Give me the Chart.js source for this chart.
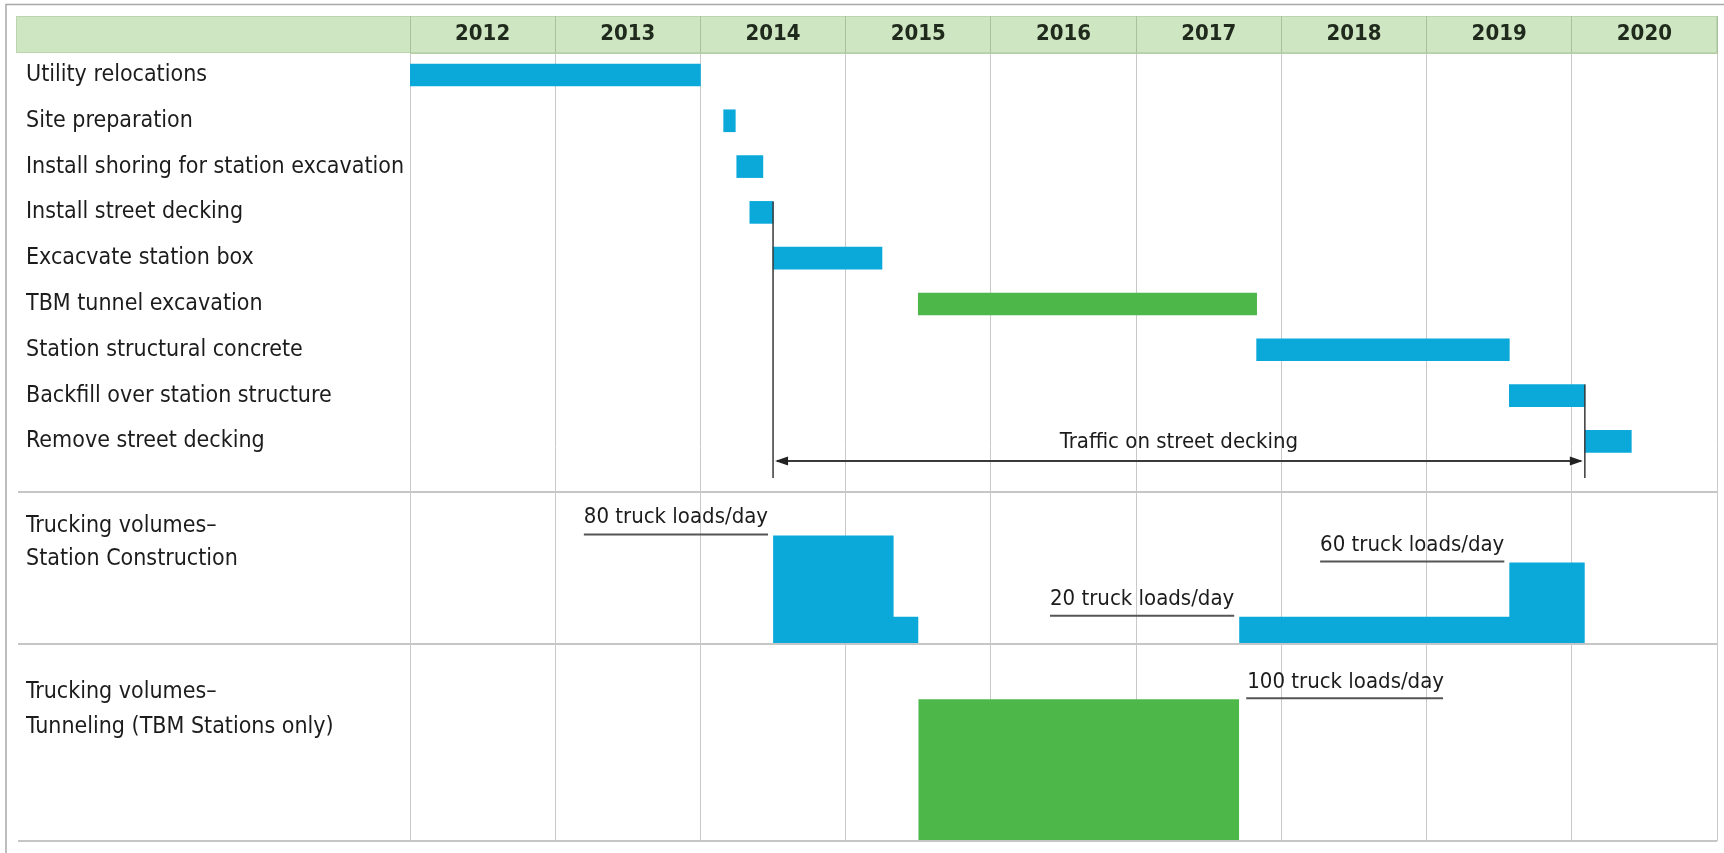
<!DOCTYPE html>
<html lang="en">
<head>
<meta charset="utf-8">
<title>Station construction schedule</title>
<script src="https://cdn.jsdelivr.net/npm/chart.js@4.4.1/dist/chart.umd.min.js"></script>
<style>
  html, body { margin: 0; padding: 0; background: #ffffff; }
  #wrap { position: relative; width: 1724px; height: 853px; }
</style>
</head>
<body>
<div id="wrap"><canvas id="schedule"></canvas></div>
<script>
const years = [2012, 2013, 2014, 2015, 2016, 2017, 2018, 2019, 2020];

const taskNames = [
  "Utility relocations",
  "Site preparation",
  "Install shoring for station excavation",
  "Install street decking",
  "Excacvate station box",
  "TBM tunnel excavation",
  "Station structural concrete",
  "Backfill over station structure",
  "Remove street decking",
];
const taskStart = [2012.0, 2014.16, 2014.25, 2014.34, 2014.5, 2015.5, 2017.83, 2019.57, 2020.09];
const taskEnd = [2014.0, 2014.24, 2014.43, 2014.5, 2015.25, 2017.83, 2019.57, 2020.09, 2020.41];
const tunnelTasks = ["TBM tunnel excavation"];

// truck loads/day, each value holds until the next change
const stationTruckYears = [2014.5, 2015.33, 2015.5, 2017.71, 2019.57, 2020.09];
const stationTruckLoads = [80, 20, 0, 20, 60, 0];
const tunnelTruckYears = [2015.5, 2017.71];
const tunnelTruckLoads = [100, 0];

const stationNotes = ["80 truck loads/day", "20 truck loads/day", "60 truck loads/day"];
const stationNoteYears = [2014.5, 2017.71, 2019.57];
const stationNoteLoads = [80, 20, 60];
const tunnelNote = "100 truck loads/day";
const tunnelNoteYear = 2017.71;
const tunnelNoteLoads = 100;

const trafficLabel = "Traffic on street decking";
const trafficFrom = 2014.5;
const trafficTo = 2020.09;

const blue = "#0ba9da";
const green = "#4db749";
const textColor = "#1c1c1c";
const fontFamily = '"DejaVu Sans Condensed", "Liberation Sans Narrow", sans-serif';
const labelColumn = 384;
const headerHeight = 37;
const barHeight = 22;

function fixLabelColumn(scale) {
  scale.width = labelColumn;
  scale.paddingTop = 0;
  scale.paddingBottom = 0;
}

const halfYearLabels = {
  id: "halfYearLabels",
  afterLayout(chart) {
    const x = chart.scales.x;
    x.options.ticks.labelOffset = (x.getPixelForValue(2013) - x.getPixelForValue(2012)) / 2;
  },
};

const decorations = {
  id: "decorations",
  beforeDraw(chart) {
    const { ctx } = chart;
    const x = chart.scales.x;
    ctx.save();
    ctx.strokeStyle = "#a8a8a8";
    ctx.lineWidth = 1.5;
    ctx.beginPath();
    ctx.moveTo(6, chart.height);
    ctx.lineTo(6, 4.5);
    ctx.lineTo(chart.width, 4.5);
    ctx.stroke();

    ctx.fillStyle = "#cfe6c3";
    ctx.fillRect(16, x.top, x.right - 16, x.bottom - x.top);
    ctx.strokeStyle = "#bcd4b0";
    ctx.lineWidth = 1;
    ctx.strokeRect(16.5, x.top + 0.5, x.right - 17, x.bottom - x.top - 1);
    ctx.restore();
  },
  afterDatasetsDraw(chart) {
    const { ctx } = chart;
    const x = chart.scales.x;
    const rows = chart.scales.yTask;
    const station = chart.scales.yStation;
    const tunnel = chart.scales.yTunnel;
    ctx.save();

    // section separators
    ctx.strokeStyle = "#c6c6c6";
    ctx.lineWidth = 2;
    [rows.bottom, station.bottom, tunnel.bottom].forEach((y) => {
      ctx.beginPath();
      ctx.moveTo(18, y);
      ctx.lineTo(x.right, y);
      ctx.stroke();
    });

    // traffic on street decking
    const xa = x.getPixelForValue(trafficFrom);
    const xb = x.getPixelForValue(trafficTo);
    const yArrow = rows.getPixelForValue(8.43);
    const yFoot = rows.getPixelForValue(8.8);
    const yLeft = rows.getPixelForValue(taskNames.indexOf("Install street decking")) - barHeight / 2;
    const yRight = rows.getPixelForValue(taskNames.indexOf("Backfill over station structure")) - barHeight / 2;
    ctx.strokeStyle = "#3a3a3a";
    ctx.lineWidth = 1.5;
    ctx.beginPath();
    ctx.moveTo(xa, yLeft);
    ctx.lineTo(xa, yFoot);
    ctx.moveTo(xb, yRight);
    ctx.lineTo(xb, yFoot);
    ctx.stroke();
    ctx.lineWidth = 2;
    ctx.beginPath();
    ctx.moveTo(xa + 4, yArrow);
    ctx.lineTo(xb - 4, yArrow);
    ctx.stroke();
    ctx.fillStyle = "#222";
    ctx.beginPath();
    ctx.moveTo(xa + 2, yArrow);
    ctx.lineTo(xa + 15, yArrow - 4.5);
    ctx.lineTo(xa + 15, yArrow + 4.5);
    ctx.closePath();
    ctx.moveTo(xb - 2, yArrow);
    ctx.lineTo(xb - 15, yArrow - 4.5);
    ctx.lineTo(xb - 15, yArrow + 4.5);
    ctx.closePath();
    ctx.fill();

    ctx.font = "22px " + fontFamily;
    ctx.fillStyle = textColor;
    ctx.textAlign = "center";
    ctx.textBaseline = "alphabetic";
    ctx.fillText(trafficLabel, (xa + xb) / 2, yArrow - 13);

    // truck load notes with underline
    ctx.strokeStyle = "#555";
    ctx.lineWidth = 2;
    ctx.textAlign = "left";
    stationNotes.forEach((text, i) => {
      const end = x.getPixelForValue(stationNoteYears[i]) - 5;
      const y = station.getPixelForValue(stationNoteLoads[i]) - 1;
      const w = ctx.measureText(text).width;
      ctx.fillText(text, end - w, y - 11);
      ctx.beginPath();
      ctx.moveTo(end - w, y);
      ctx.lineTo(end, y);
      ctx.stroke();
    });
    const start = x.getPixelForValue(tunnelNoteYear) + 7;
    const yt = tunnel.getPixelForValue(tunnelNoteLoads) - 1;
    const wt = ctx.measureText(tunnelNote).width;
    ctx.fillText(tunnelNote, start + 1, yt - 10);
    ctx.beginPath();
    ctx.moveTo(start, yt);
    ctx.lineTo(start + wt, yt);
    ctx.stroke();

    ctx.restore();
  },
};

new Chart(document.getElementById("schedule"), {
  type: "bar",
  data: {
    datasets: [
      {
        type: "bar",
        indexAxis: "y",
        xAxisID: "x",
        yAxisID: "yTask",
        data: taskNames.map((name, i) => ({ x: [taskStart[i], taskEnd[i]], y: i })),
        backgroundColor: taskNames.map((name) => (tunnelTasks.includes(name) ? green : blue)),
        barThickness: barHeight,
        borderWidth: 0,
        borderSkipped: false,
      },
      {
        type: "line",
        xAxisID: "x",
        yAxisID: "yStation",
        data: stationTruckYears.map((yr, i) => ({ x: yr, y: stationTruckLoads[i] })),
        stepped: true,
        fill: "origin",
        backgroundColor: blue,
        borderColor: "rgba(0,0,0,0)",
        borderWidth: 0,
        pointRadius: 0,
      },
      {
        type: "line",
        xAxisID: "x",
        yAxisID: "yTunnel",
        data: tunnelTruckYears.map((yr, i) => ({ x: yr, y: tunnelTruckLoads[i] })),
        stepped: true,
        fill: "origin",
        backgroundColor: green,
        borderColor: "rgba(0,0,0,0)",
        borderWidth: 0,
        pointRadius: 0,
      },
    ],
  },
  options: {
    responsive: true,
    maintainAspectRatio: false,
    animation: false,
    events: [],
    layout: { padding: { left: 26, top: 16, right: 7, bottom: 12 } },
    plugins: {
      legend: { display: false },
      tooltip: { enabled: false },
    },
    scales: {
      x: {
        type: "linear",
        position: "top",
        min: 2012,
        max: 2021,
        offset: false,
        afterBuildTicks: (scale) => {
          scale.ticks = years.concat([2021]).map((v) => ({ value: v }));
        },
        ticks: {
          callback: (v) => (years.includes(v) ? String(v) : ""),
          font: { family: fontFamily, size: 22, weight: "bold", lineHeight: 1 },
          color: "#1f2a1c",
          padding: -29.5,
          maxRotation: 0,
          autoSkip: false,
        },
        grid: {
          offset: false,
          color: "#c9c9c9",
          lineWidth: 1,
          drawTicks: true,
          tickLength: headerHeight,
          tickColor: "#a9c29e",
        },
        border: { display: true, color: "#b4cea6", width: 1 },
        afterFit: (scale) => {
          scale.height = headerHeight;
          scale.paddingLeft = 0;
          scale.paddingRight = 0;
        },
      },
      yTask: {
        type: "linear",
        position: "left",
        stack: "rows",
        stackWeight: 439,
        weight: 3,
        offset: false,
        reverse: true,
        min: -0.48,
        max: 9.105,
        afterBuildTicks: (scale) => {
          scale.ticks = taskNames.map((name, i) => ({ value: i }));
        },
        ticks: {
          callback: (v) => taskNames[v],
          crossAlign: "far",
          font: { family: fontFamily, size: 23 },
          color: textColor,
          autoSkip: false,
        },
        grid: { display: false, offset: false },
        border: { display: false },
        afterFit: fixLabelColumn,
      },
      yStation: {
        type: "linear",
        position: "left",
        stack: "rows",
        stackWeight: 152,
        weight: 2,
        offset: false,
        min: 0,
        max: 112,
        afterBuildTicks: (scale) => {
          scale.ticks = [{ value: 74.5 }];
        },
        ticks: {
          callback: () => ["Trucking volumes–", "Station Construction"],
          crossAlign: "far",
          font: { family: fontFamily, size: 23, lineHeight: 1.43 },
          color: textColor,
        },
        grid: { display: false },
        border: { display: false },
        afterFit: fixLabelColumn,
      },
      yTunnel: {
        type: "linear",
        position: "left",
        stack: "rows",
        stackWeight: 197,
        weight: 1,
        offset: false,
        min: 0,
        max: 139,
        afterBuildTicks: (scale) => {
          scale.ticks = [{ value: 92.5 }];
        },
        ticks: {
          callback: () => ["Trucking volumes–", "Tunneling (TBM Stations only)"],
          crossAlign: "far",
          font: { family: fontFamily, size: 23, lineHeight: 1.52 },
          color: textColor,
        },
        grid: { display: false },
        border: { display: false },
        afterFit: fixLabelColumn,
      },
    },
  },
  plugins: [halfYearLabels, decorations],
});
</script>
</body>
</html>
